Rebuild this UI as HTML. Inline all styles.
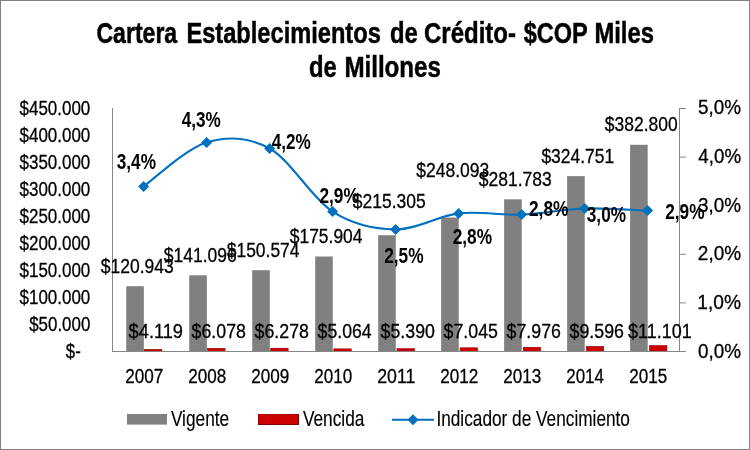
<!DOCTYPE html>
<html lang="es"><head><meta charset="utf-8"><title>Cartera Establecimientos de Crédito</title>
<style>
html,body{margin:0;padding:0;background:#fff;}
body{width:750px;height:450px;overflow:hidden;}
svg{display:block;font-family:"Liberation Sans",Arial,sans-serif;}
</style></head><body>
<svg width="750" height="450" viewBox="0 0 750 450">
<rect x="0.5" y="0.5" width="749" height="449" fill="#fff" stroke="#808080" stroke-width="1"/>
<text transform="translate(96.45,43.20) scale(0.7603,1)" font-size="30.35" font-weight="bold" fill="#000" stroke="#000" stroke-width="0.5">Cartera</text>
<text transform="translate(186.42,43.20) scale(0.7794,1)" font-size="30.35" font-weight="bold" fill="#000" stroke="#000" stroke-width="0.5">Establecimientos</text>
<text transform="translate(390.02,43.20) scale(0.7845,1)" font-size="30.35" font-weight="bold" fill="#000" stroke="#000" stroke-width="0.5">de</text>
<text transform="translate(424.02,43.20) scale(0.7904,1)" font-size="30.35" font-weight="bold" fill="#000" stroke="#000" stroke-width="0.5">Crédito-</text>
<text transform="translate(523.69,43.20) scale(0.7757,1)" font-size="30.35" font-weight="bold" fill="#000" stroke="#000" stroke-width="0.5">$COP</text>
<text transform="translate(594.40,43.20) scale(0.7848,1)" font-size="30.35" font-weight="bold" fill="#000" stroke="#000" stroke-width="0.5">Miles</text>
<text transform="translate(309.02,76.80) scale(0.7845,1)" font-size="30.35" font-weight="bold" fill="#000" stroke="#000" stroke-width="0.5">de</text>
<text transform="translate(344.38,76.80) scale(0.7958,1)" font-size="30.35" font-weight="bold" fill="#000" stroke="#000" stroke-width="0.5">Millones</text>
<text transform="translate(19.51,114.70) scale(0.8166,1)" font-size="20.8" fill="#000" stroke="#000" stroke-width="0.3">$450.000</text>
<text transform="translate(19.51,141.70) scale(0.8166,1)" font-size="20.8" fill="#000" stroke="#000" stroke-width="0.3">$400.000</text>
<text transform="translate(19.51,168.70) scale(0.8166,1)" font-size="20.8" fill="#000" stroke="#000" stroke-width="0.3">$350.000</text>
<text transform="translate(19.51,195.70) scale(0.8166,1)" font-size="20.8" fill="#000" stroke="#000" stroke-width="0.3">$300.000</text>
<text transform="translate(19.51,222.70) scale(0.8166,1)" font-size="20.8" fill="#000" stroke="#000" stroke-width="0.3">$250.000</text>
<text transform="translate(19.51,249.70) scale(0.8166,1)" font-size="20.8" fill="#000" stroke="#000" stroke-width="0.3">$200.000</text>
<text transform="translate(19.51,276.70) scale(0.8166,1)" font-size="20.8" fill="#000" stroke="#000" stroke-width="0.3">$150.000</text>
<text transform="translate(19.51,303.70) scale(0.8166,1)" font-size="20.8" fill="#000" stroke="#000" stroke-width="0.3">$100.000</text>
<text transform="translate(29.21,330.70) scale(0.8132,1)" font-size="20.8" fill="#000" stroke="#000" stroke-width="0.3">$50.000</text>
<text transform="translate(65.82,357.50) scale(0.8070,1)" font-size="20.8" fill="#000" stroke="#000" stroke-width="0.3">$-</text>
<text transform="translate(698.06,357.70) scale(0.9070,1)" font-size="20.8" fill="#000" stroke="#000" stroke-width="0.3">0,0%</text>
<text transform="translate(697.34,309.02) scale(0.9225,1)" font-size="20.8" fill="#000" stroke="#000" stroke-width="0.3">1,0%</text>
<text transform="translate(697.85,260.34) scale(0.9116,1)" font-size="20.8" fill="#000" stroke="#000" stroke-width="0.3">2,0%</text>
<text transform="translate(698.08,211.66) scale(0.9066,1)" font-size="20.8" fill="#000" stroke="#000" stroke-width="0.3">3,0%</text>
<text transform="translate(698.37,162.98) scale(0.9005,1)" font-size="20.8" fill="#000" stroke="#000" stroke-width="0.3">4,0%</text>
<text transform="translate(698.05,114.30) scale(0.9074,1)" font-size="20.8" fill="#000" stroke="#000" stroke-width="0.3">5,0%</text>
<rect x="126.25" y="286.19" width="17.6" height="65.31" fill="#808080"/>
<rect x="144.50" y="349.38" width="17.4" height="2.12" fill="#CC0000" stroke="#8E0000" stroke-width="0.6"/>
<rect x="189.23" y="275.31" width="17.6" height="76.19" fill="#808080"/>
<rect x="207.62" y="348.32" width="17.4" height="3.18" fill="#CC0000" stroke="#8E0000" stroke-width="0.6"/>
<rect x="252.21" y="270.19" width="17.6" height="81.31" fill="#808080"/>
<rect x="270.74" y="348.21" width="17.4" height="3.29" fill="#CC0000" stroke="#8E0000" stroke-width="0.6"/>
<rect x="315.19" y="256.51" width="17.6" height="94.99" fill="#808080"/>
<rect x="333.86" y="348.87" width="17.4" height="2.63" fill="#CC0000" stroke="#8E0000" stroke-width="0.6"/>
<rect x="378.17" y="235.24" width="17.6" height="116.26" fill="#808080"/>
<rect x="396.98" y="348.69" width="17.4" height="2.81" fill="#CC0000" stroke="#8E0000" stroke-width="0.6"/>
<rect x="441.15" y="217.53" width="17.6" height="133.97" fill="#808080"/>
<rect x="460.10" y="347.80" width="17.4" height="3.70" fill="#CC0000" stroke="#8E0000" stroke-width="0.6"/>
<rect x="504.13" y="199.34" width="17.6" height="152.16" fill="#808080"/>
<rect x="523.22" y="347.29" width="17.4" height="4.21" fill="#CC0000" stroke="#8E0000" stroke-width="0.6"/>
<rect x="567.11" y="176.13" width="17.6" height="175.37" fill="#808080"/>
<rect x="586.34" y="346.42" width="17.4" height="5.08" fill="#CC0000" stroke="#8E0000" stroke-width="0.6"/>
<rect x="630.09" y="144.79" width="17.6" height="206.71" fill="#808080"/>
<rect x="649.46" y="345.61" width="17.4" height="5.89" fill="#CC0000" stroke="#8E0000" stroke-width="0.6"/>
<path d="M112.5 108V351.5" stroke="#868686" stroke-width="1" fill="none"/>
<path d="M112 351.5H686" stroke="#868686" stroke-width="1" fill="none"/>
<path d="M679.5 108V351.5" stroke="#868686" stroke-width="1" fill="none"/>
<path d="M679 351.5H686" stroke="#868686" stroke-width="1" fill="none"/>
<path d="M679 302.9H686" stroke="#868686" stroke-width="1" fill="none"/>
<path d="M679 254.3H686" stroke="#868686" stroke-width="1" fill="none"/>
<path d="M679 205.7H686" stroke="#868686" stroke-width="1" fill="none"/>
<path d="M679 157.1H686" stroke="#868686" stroke-width="1" fill="none"/>
<path d="M679 108.5H686" stroke="#868686" stroke-width="1" fill="none"/>
<path d="M143.6 186.4C154.10 179.07 185.60 148.72 206.6 142.4C227.60 136.08 248.60 136.97 269.6 148.5C290.60 160.03 311.60 198.12 332.6 211.6C353.60 225.08 374.60 229.10 395.6 229.4C416.60 229.70 437.60 215.87 458.6 213.4C479.60 210.93 500.60 215.42 521.6 214.6C542.60 213.78 563.60 209.17 584.6 208.5C605.60 207.83 637.10 210.25 647.6 210.6" stroke="#0070C0" stroke-width="2.1" fill="none" stroke-linecap="round"/>
<path d="M138.1 186.4L143.6 180.9L149.1 186.4L143.6 191.9Z" fill="#0070C0"/>
<path d="M201.1 142.4L206.6 136.9L212.1 142.4L206.6 147.9Z" fill="#0070C0"/>
<path d="M264.1 148.5L269.6 143.0L275.1 148.5L269.6 154.0Z" fill="#0070C0"/>
<path d="M327.1 211.6L332.6 206.1L338.1 211.6L332.6 217.1Z" fill="#0070C0"/>
<path d="M390.1 229.4L395.6 223.9L401.1 229.4L395.6 234.9Z" fill="#0070C0"/>
<path d="M453.1 213.4L458.6 207.9L464.1 213.4L458.6 218.9Z" fill="#0070C0"/>
<path d="M516.1 214.6L521.6 209.1L527.1 214.6L521.6 220.1Z" fill="#0070C0"/>
<path d="M579.1 208.5L584.6 203.0L590.1 208.5L584.6 214.0Z" fill="#0070C0"/>
<path d="M642.1 210.6L647.6 205.1L653.1 210.6L647.6 216.1Z" fill="#0070C0"/>
<text transform="translate(100.81,272.89) scale(0.8410,1)" font-size="20.8" fill="#000" stroke="#000" stroke-width="0.3">$120.943</text>
<text transform="translate(163.81,262.01) scale(0.8410,1)" font-size="20.8" fill="#000" stroke="#000" stroke-width="0.3">$141.096</text>
<text transform="translate(226.81,256.89) scale(0.8379,1)" font-size="20.8" fill="#000" stroke="#000" stroke-width="0.3">$150.574</text>
<text transform="translate(289.81,243.21) scale(0.8379,1)" font-size="20.8" fill="#000" stroke="#000" stroke-width="0.3">$175.904</text>
<text transform="translate(352.81,207.70) scale(0.8406,1)" font-size="20.8" fill="#000" stroke="#000" stroke-width="0.3">$215.305</text>
<text transform="translate(416.31,176.90) scale(0.8410,1)" font-size="20.8" fill="#000" stroke="#000" stroke-width="0.3">$248.093</text>
<text transform="translate(478.81,186.04) scale(0.8410,1)" font-size="20.8" fill="#000" stroke="#000" stroke-width="0.3">$281.783</text>
<text transform="translate(541.41,162.83) scale(0.8397,1)" font-size="20.8" fill="#000" stroke="#000" stroke-width="0.3">$324.751</text>
<text transform="translate(604.81,131.49) scale(0.8400,1)" font-size="20.8" fill="#000" stroke="#000" stroke-width="0.3">$382.800</text>
<text transform="translate(128.60,337.80) scale(0.8774,1)" font-size="20.8" fill="#000" stroke="#000" stroke-width="0.3">$4.119</text>
<text transform="translate(191.60,337.80) scale(0.8546,1)" font-size="20.8" fill="#000" stroke="#000" stroke-width="0.3">$6.078</text>
<text transform="translate(254.60,337.80) scale(0.8546,1)" font-size="20.8" fill="#000" stroke="#000" stroke-width="0.3">$6.278</text>
<text transform="translate(317.61,337.80) scale(0.8507,1)" font-size="20.8" fill="#000" stroke="#000" stroke-width="0.3">$5.064</text>
<text transform="translate(380.60,337.80) scale(0.8535,1)" font-size="20.8" fill="#000" stroke="#000" stroke-width="0.3">$5.390</text>
<text transform="translate(443.60,337.80) scale(0.8543,1)" font-size="20.8" fill="#000" stroke="#000" stroke-width="0.3">$7.045</text>
<text transform="translate(506.60,337.80) scale(0.8549,1)" font-size="20.8" fill="#000" stroke="#000" stroke-width="0.3">$7.976</text>
<text transform="translate(569.60,337.80) scale(0.8549,1)" font-size="20.8" fill="#000" stroke="#000" stroke-width="0.3">$9.596</text>
<text transform="translate(628.00,337.80) scale(0.8648,1)" font-size="20.8" fill="#000" stroke="#000" stroke-width="0.3">$11.101</text>
<text transform="translate(116.70,169.40) scale(0.8084,1)" font-size="21.3" font-weight="bold" fill="#000">3,4%</text>
<text transform="translate(181.74,127.20) scale(0.8055,1)" font-size="21.3" font-weight="bold" fill="#000">4,3%</text>
<text transform="translate(271.74,149.00) scale(0.8055,1)" font-size="21.3" font-weight="bold" fill="#000">4,2%</text>
<text transform="translate(319.39,203.00) scale(0.8128,1)" font-size="21.3" font-weight="bold" fill="#000">2,9%</text>
<text transform="translate(384.19,263.00) scale(0.8128,1)" font-size="21.3" font-weight="bold" fill="#000">2,5%</text>
<text transform="translate(452.69,243.50) scale(0.8128,1)" font-size="21.3" font-weight="bold" fill="#000">2,8%</text>
<text transform="translate(528.99,216.40) scale(0.8128,1)" font-size="21.3" font-weight="bold" fill="#000">2,8%</text>
<text transform="translate(586.80,222.20) scale(0.8084,1)" font-size="21.3" font-weight="bold" fill="#000">3,0%</text>
<text transform="translate(665.19,219.40) scale(0.8128,1)" font-size="21.3" font-weight="bold" fill="#000">2,9%</text>
<text transform="translate(125.24,383.10) scale(0.8239,1)" font-size="20.8" fill="#000" stroke="#000" stroke-width="0.3">2007</text>
<text transform="translate(188.25,383.10) scale(0.8212,1)" font-size="20.8" fill="#000" stroke="#000" stroke-width="0.3">2008</text>
<text transform="translate(251.24,383.10) scale(0.8228,1)" font-size="20.8" fill="#000" stroke="#000" stroke-width="0.3">2009</text>
<text transform="translate(314.25,383.10) scale(0.8197,1)" font-size="20.8" fill="#000" stroke="#000" stroke-width="0.3">2010</text>
<text transform="translate(377.21,383.10) scale(0.8532,1)" font-size="20.8" fill="#000" stroke="#000" stroke-width="0.3">2011</text>
<text transform="translate(440.24,383.10) scale(0.8239,1)" font-size="20.8" fill="#000" stroke="#000" stroke-width="0.3">2012</text>
<text transform="translate(503.25,383.10) scale(0.8216,1)" font-size="20.8" fill="#000" stroke="#000" stroke-width="0.3">2013</text>
<text transform="translate(566.25,383.10) scale(0.8159,1)" font-size="20.8" fill="#000" stroke="#000" stroke-width="0.3">2014</text>
<text transform="translate(629.25,383.10) scale(0.8208,1)" font-size="20.8" fill="#000" stroke="#000" stroke-width="0.3">2015</text>
<rect x="127" y="414" width="40" height="10.6" fill="#808080"/>
<text transform="translate(170.91,426.00) scale(0.8002,1)" font-size="21.58" fill="#000" stroke="#000" stroke-width="0.15">Vigente</text>
<rect x="258.5" y="414.5" width="40" height="10" fill="#CC0000" stroke="#A80000" stroke-width="1"/>
<path d="M258.5 424.5H298.5V414.5" fill="none" stroke="#7A0000" stroke-width="1"/>
<text transform="translate(302.91,426.00) scale(0.8008,1)" font-size="21.58" fill="#000" stroke="#000" stroke-width="0.15">Vencida</text>
<path d="M392 419.8H434" stroke="#0070C0" stroke-width="2.1" fill="none"/>
<path d="M407.5 419.8L413 414.3L418.5 419.8L413 425.3Z" fill="#0070C0"/>
<text transform="translate(436.41,426.00) scale(0.7994,1)" font-size="21.58" fill="#000" stroke="#000" stroke-width="0.15">Indicador de Vencimiento</text>
</svg>
</body></html>
